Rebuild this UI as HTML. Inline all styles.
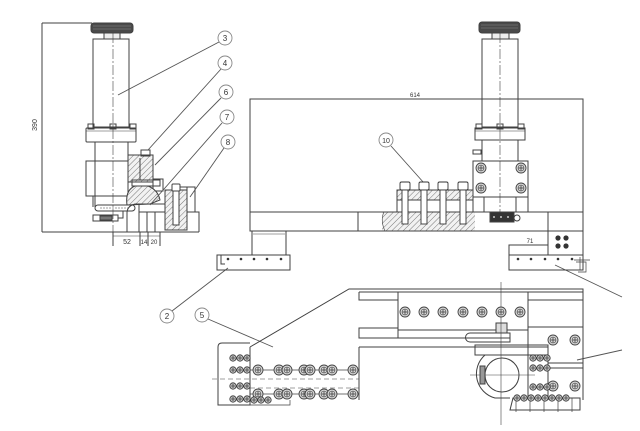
<!DOCTYPE html>
<html><head><meta charset="utf-8"><style>
html,body{margin:0;padding:0;background:#fff;}
svg{display:block;}
text{font-family:"Liberation Sans",sans-serif;fill:#333;}
</style></head><body>
<svg width="640" height="431" viewBox="0 0 640 431" xmlns="http://www.w3.org/2000/svg">
<defs>
<pattern id="h" width="4" height="4" patternUnits="userSpaceOnUse" patternTransform="rotate(45)">
<rect width="4" height="4" fill="#f2f2f2"/><line x1="0" y1="0" x2="0" y2="4" stroke="#777" stroke-width="1"/></pattern>
<g id="s"><circle r="5" fill="#d8d8d8" stroke="#444" stroke-width="0.9"/><circle r="3" fill="none" stroke="#555" stroke-width="0.6"/><path d="M-3 0H3M0-3V3" stroke="#333" stroke-width="0.7"/></g>
<g id="ss"><circle r="3.2" fill="#bbb" stroke="#333" stroke-width="0.8"/><path d="M-2 0H2M0-2V2" stroke="#222" stroke-width="0.6"/></g>
<g id="b"><circle r="7" fill="#fff" stroke="#888" stroke-width="0.9"/></g>
</defs>
<rect width="640" height="431" fill="#fff"/>
<g fill="none" stroke="#404040" stroke-width="1">
<!-- ===== LEFT VIEW ===== -->
<line x1="42" y1="23" x2="42" y2="232"/>
<line x1="42" y1="23" x2="92" y2="23"/>
<line x1="42" y1="232" x2="199" y2="232"/>
<rect x="91" y="23" width="42" height="10" rx="3" fill="#4a4a4a"/>
<path d="M93 26H131M93 29H131" stroke="#888" stroke-width="0.6"/>
<rect x="104" y="33" width="16" height="6" fill="#eee"/>
<rect x="93" y="39" width="36" height="88"/>
<line x1="113" y1="33" x2="113" y2="246" stroke-width="0.6" stroke-dasharray="10 2 2 2"/>
<rect x="86" y="128" width="50" height="14" rx="1"/>
<line x1="86" y1="131" x2="136" y2="131" stroke-width="0.6"/>
<rect x="88" y="124" width="6" height="5"/><rect x="110" y="124" width="6" height="5"/><rect x="130" y="124" width="6" height="5"/>
<line x1="95" y1="142" x2="95" y2="207"/>
<line x1="128" y1="142" x2="128" y2="161"/>
<rect x="86" y="161" width="42" height="35"/>
<line x1="93" y1="196" x2="93" y2="207"/>
<rect x="128" y="155" width="25" height="27" fill="url(#h)"/>
<rect x="141" y="150" width="9" height="6"/>
<line x1="140" y1="158" x2="140" y2="180"/>
<rect x="132" y="180" width="28" height="6"/>
<rect x="153" y="179" width="10" height="12"/>
<path d="M127 205 Q125 190 135 186 L148 186 Q158 190 160 200 L150 204 Z" fill="url(#h)"/>
<path d="M127 232V213Q127 206 135 204H167"/>
<line x1="139" y1="204" x2="139" y2="232"/>
<line x1="139" y1="212" x2="199" y2="212"/>
<line x1="147" y1="212" x2="147" y2="232"/>
<line x1="155" y1="212" x2="155" y2="232"/>
<rect x="165" y="190" width="22" height="40" fill="url(#h)"/>
<rect x="172" y="184" width="8" height="7" rx="1" fill="#fff"/>
<rect x="173" y="191" width="6" height="34" fill="#fff"/>
<path d="M180 187H195V212M187 187V212M195 212H199V232"/>
<rect x="95" y="205" width="40" height="6" rx="3"/>
<line x1="100" y1="208" x2="130" y2="208" stroke-width="0.6" stroke-dasharray="2 1"/>
<rect x="93" y="215" width="25" height="6"/>
<rect x="100" y="216" width="12" height="4" fill="#777"/>
<path d="M118 218H123V211"/>
<path d="M113 232V246M140 232V246M148 232V246M160 232V246"/>
<line x1="113" y1="236" x2="160" y2="236" stroke-width="0.6"/>
</g>
<text x="37" y="125" font-size="7" transform="rotate(-90 37 125)" text-anchor="middle">390</text>
<text x="127" y="244" font-size="7" text-anchor="middle">52</text>
<text x="144" y="244" font-size="6" text-anchor="middle">14</text>
<text x="154" y="244" font-size="6" text-anchor="middle">20</text>

<g stroke="#555" stroke-width="0.9">
<line x1="219" y1="42" x2="118" y2="95"/>
<line x1="221" y1="69" x2="148" y2="150"/>
<line x1="221" y1="98" x2="155" y2="165"/>
<line x1="222" y1="123" x2="150" y2="205"/>
<line x1="224" y1="148" x2="190" y2="197"/>
<line x1="391" y1="146" x2="424" y2="183"/>
<line x1="172" y1="311" x2="228" y2="268"/>
<line x1="208" y1="319" x2="273" y2="347"/>
<line x1="555" y1="265" x2="622" y2="297"/>
<line x1="577" y1="360" x2="622" y2="350"/>
</g>
<use href="#b" x="225" y="38"/><use href="#b" x="225" y="63"/><use href="#b" x="226" y="92"/>
<use href="#b" x="227" y="117"/><use href="#b" x="228" y="142"/><use href="#b" x="386" y="140"/>
<use href="#b" x="167" y="316"/><use href="#b" x="202" y="315"/>
<g font-size="8" fill="#666" text-anchor="middle">
<text x="225" y="41">3</text><text x="225" y="66">4</text><text x="226" y="95">6</text>
<text x="227" y="120">7</text><text x="228" y="145">8</text><text x="386" y="143" font-size="7">10</text>
<text x="167" y="319">2</text><text x="202" y="318">5</text>
</g>

<!-- ===== FRONT VIEW ===== -->
<g fill="none" stroke="#404040" stroke-width="1">
<rect x="250" y="99" width="333" height="113"/>
<rect x="382" y="212" width="93" height="19" fill="url(#h)" stroke="none"/>
<path d="M384 212 Q380 220 385 231" stroke-width="0.6"/>
<rect x="250" y="212" width="333" height="19"/>
<line x1="358" y1="212" x2="358" y2="231"/>
<line x1="548" y1="212" x2="548" y2="255"/>
<rect x="252" y="231" width="34" height="24"/>
<line x1="253" y1="234" x2="285" y2="234" stroke-width="0.6"/>
<rect x="217" y="255" width="73" height="15"/>
<path d="M221 255V264H225"/>
<rect x="548" y="231" width="35" height="24"/>
<path d="M509 270V245H548"/>
<rect x="509" y="255" width="74" height="15"/>
<path d="M576 262H586V272H578M580 257V270M574 260H590" stroke-width="0.7"/>
<rect x="479" y="22" width="41" height="11" rx="3" fill="#4a4a4a"/>
<path d="M481 25H518M481 28H518" stroke="#888" stroke-width="0.6"/>
<rect x="492" y="33" width="17" height="6" fill="#eee"/>
<rect x="482" y="39" width="36" height="88"/>
<line x1="500" y1="33" x2="500" y2="212" stroke-width="0.6" stroke-dasharray="10 2 2 2"/>
<rect x="475" y="128" width="50" height="12"/>
<line x1="475" y1="131" x2="525" y2="131" stroke-width="0.6"/>
<rect x="476" y="124" width="6" height="5"/><rect x="497" y="124" width="6" height="5"/><rect x="518" y="124" width="6" height="5"/>
<line x1="482" y1="140" x2="482" y2="161"/><line x1="518" y1="140" x2="518" y2="161"/>
<rect x="473" y="150" width="8" height="4"/>
<rect x="473" y="161" width="55" height="51"/>
<line x1="473" y1="197" x2="528" y2="197"/>
<path d="M484 197V212M516 197V212"/>
<rect x="490" y="212" width="24" height="10" fill="#333"/>
<circle cx="517" cy="218" r="3"/>
<rect x="397" y="190" width="76" height="10" fill="url(#h)"/>
<line x1="397" y1="200" x2="397" y2="212"/><line x1="473" y1="200" x2="473" y2="212"/>
</g>
<g fill="#fff" stroke="#333" stroke-width="0.9">
<rect x="400" y="182" width="10" height="8" rx="1.5"/><rect x="402" y="190" width="6" height="34"/>
<rect x="419" y="182" width="10" height="8" rx="1.5"/><rect x="421" y="190" width="6" height="34"/>
<rect x="438" y="182" width="10" height="8" rx="1.5"/><rect x="440" y="190" width="6" height="34"/>
<rect x="458" y="182" width="10" height="8" rx="1.5"/><rect x="460" y="190" width="6" height="34"/>
</g>
<use href="#s" x="481" y="168"/><use href="#s" x="521" y="168"/><use href="#s" x="481" y="188"/><use href="#s" x="521" y="188"/>
<g fill="#333">
<circle cx="228" cy="259" r="1.3"/><circle cx="241" cy="259" r="1.3"/><circle cx="254" cy="259" r="1.3"/><circle cx="267" cy="259" r="1.3"/><circle cx="281" cy="259" r="1.3"/>
<circle cx="518" cy="259" r="1.3"/><circle cx="531" cy="259" r="1.3"/><circle cx="545" cy="259" r="1.3"/><circle cx="558" cy="259" r="1.3"/><circle cx="572" cy="259" r="1.3"/>
<circle cx="558" cy="238" r="2.6"/><circle cx="566" cy="238" r="2.6"/><circle cx="558" cy="246" r="2.6"/><circle cx="566" cy="246" r="2.6"/>
<circle cx="494" cy="217" r="1" fill="#ccc"/><circle cx="501" cy="217" r="1" fill="#ccc"/><circle cx="508" cy="217" r="1" fill="#ccc"/>
</g>
<text x="415" y="97" font-size="6" text-anchor="middle">614</text>
<text x="530" y="243" font-size="6" text-anchor="middle">71</text>

<!-- ===== BOTTOM VIEW ===== -->
<g fill="none" stroke="#404040" stroke-width="1">
<path d="M250 347L349 289H583V400"/>
<line x1="359" y1="292" x2="583" y2="292"/>
<path d="M359 292V300H398"/>
<rect x="398" y="292" width="130" height="38"/>
<rect x="359" y="328" width="39" height="10"/>
<path d="M398 338H510"/>
<path d="M470 333H510V342H470A4.5 4.5 0 0 1 470 333Z"/>
<rect x="496" y="323" width="11" height="10" fill="#ddd"/>
<line x1="501" y1="282" x2="501" y2="425" stroke-width="0.6"/>
<path d="M359 347H548V400"/>
<line x1="359" y1="347" x2="359" y2="400"/>
<rect x="475" y="345" width="73" height="10"/>
<line x1="528" y1="292" x2="528" y2="398"/>
<path d="M528 300H583M528 327H583M548 363H583M548 368H583"/>
<circle cx="502" cy="375" r="17"/>
<path d="M485 355 A25 25 0 0 0 495 398 L510 398" />
<line x1="470" y1="375" x2="535" y2="375" stroke-width="0.5"/>
<rect x="480" y="366" width="5" height="18" fill="#999"/>
<path d="M250 347V405H218V347Q218 343 222 343H250"/>
<line x1="250" y1="370" x2="359" y2="370" stroke-width="0.7"/>
<line x1="250" y1="394" x2="359" y2="394" stroke-width="0.7"/>
<line x1="212" y1="379" x2="359" y2="379" stroke-width="0.6" stroke-dasharray="5 3"/>
<line x1="250" y1="388" x2="359" y2="388" stroke-width="0.6" stroke-dasharray="5 3"/>
<path d="M250 405H290V400" stroke-width="0.7"/>
<path d="M510 410L513 398H580V410Z"/>
<path d="M516 398V412M530 398V412M544 398V412M558 398V412M572 398V412" stroke-width="0.7"/>
</g>
<g>
<use href="#s" x="405" y="312"/><use href="#s" x="424" y="312"/><use href="#s" x="443" y="312"/><use href="#s" x="463" y="312"/><use href="#s" x="482" y="312"/><use href="#s" x="501" y="312"/><use href="#s" x="520" y="312"/>
<use href="#s" x="258" y="370"/><use href="#s" x="279" y="370"/><use href="#s" x="287" y="370"/><use href="#s" x="304" y="370"/><use href="#s" x="310" y="370"/><use href="#s" x="324" y="370"/><use href="#s" x="332" y="370"/><use href="#s" x="353" y="370"/>
<use href="#s" x="258" y="394"/><use href="#s" x="279" y="394"/><use href="#s" x="287" y="394"/><use href="#s" x="304" y="394"/><use href="#s" x="310" y="394"/><use href="#s" x="324" y="394"/><use href="#s" x="332" y="394"/><use href="#s" x="353" y="394"/>
<use href="#s" x="553" y="340"/><use href="#s" x="575" y="340"/><use href="#s" x="553" y="386"/><use href="#s" x="575" y="386"/>
<use href="#ss" x="233" y="358"/><use href="#ss" x="240" y="358"/><use href="#ss" x="247" y="358"/>
<use href="#ss" x="233" y="370"/><use href="#ss" x="240" y="370"/><use href="#ss" x="247" y="370"/>
<use href="#ss" x="233" y="386"/><use href="#ss" x="240" y="386"/><use href="#ss" x="247" y="386"/>
<use href="#ss" x="233" y="399"/><use href="#ss" x="240" y="399"/><use href="#ss" x="247" y="399"/><use href="#ss" x="254" y="400"/><use href="#ss" x="261" y="400"/><use href="#ss" x="268" y="400"/>
<use href="#ss" x="533" y="358"/><use href="#ss" x="540" y="358"/><use href="#ss" x="547" y="358"/>
<use href="#ss" x="533" y="368"/><use href="#ss" x="540" y="368"/><use href="#ss" x="547" y="368"/>
<use href="#ss" x="533" y="387"/><use href="#ss" x="540" y="387"/><use href="#ss" x="547" y="387"/>
<use href="#ss" x="517" y="398"/><use href="#ss" x="524" y="398"/><use href="#ss" x="531" y="398"/><use href="#ss" x="538" y="398"/><use href="#ss" x="545" y="398"/><use href="#ss" x="552" y="398"/><use href="#ss" x="559" y="398"/><use href="#ss" x="566" y="398"/>
</g>
</svg>
</body></html>
